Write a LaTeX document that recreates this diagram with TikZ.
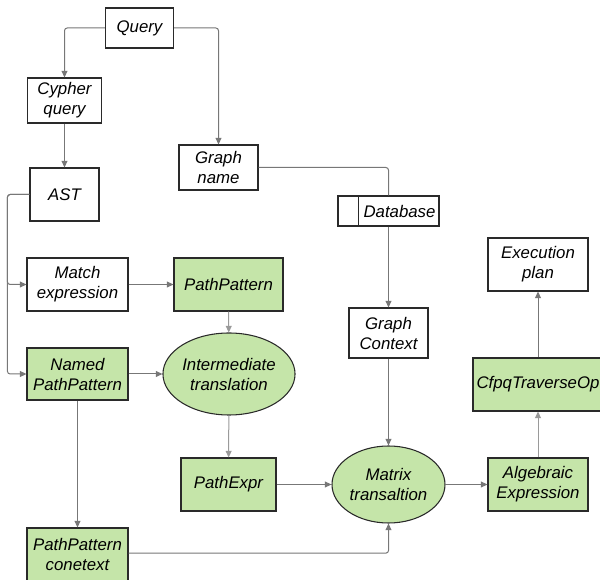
\documentclass[tikz,border=0pt]{standalone}
\usepackage{fontspec}
\setmainfont{Liberation Sans}
\usetikzlibrary{arrows.meta,shapes.geometric}
\definecolor{gfill}{HTML}{C5E5A9}
\definecolor{lcol}{HTML}{777777}
\definecolor{lcol2}{HTML}{9A9A9A}
\definecolor{bcol}{HTML}{2A2A2A}
\tikzset{
 base/.style={draw=bcol, line width=0.8pt, font=\fontsize{12.6}{15}\selectfont\itshape, align=center, inner sep=0pt},
 sz/.style 2 args={minimum width=#1*0.75pt, minimum height=#2*0.75pt},
 wbox/.style={base, fill=white, rectangle},
 gbox/.style={base, fill=gfill, rectangle},
 gell/.style={base, fill=gfill, ellipse},
 conn/.style={draw=lcol, line width=0.75pt, rounded corners=2pt},
 arr/.style={conn, -{Triangle[length=5pt,width=4.5pt]}},
 larr/.style={arr, draw=lcol2}
}
\begin{document}
\begin{tikzpicture}[x=0.75pt,y=-0.75pt]
\useasboundingbox (0,0) rectangle (600,580);
\clip (0,0) rectangle (600,580);
% nodes
\node[wbox, sz={68}{40}] (q) at (139.5,28) {Query};
\node[wbox, sz={74}{45}] (cy) at (64.5,100.5) {Cypher\\query};
\node[wbox, sz={69}{53}] (ast) at (64.5,194.5) {AST};
\node[wbox, sz={79}{45}] (gn) at (218.5,167.5) {Graph\\name};
\node[wbox, sz={101}{30}, label={[font=\fontsize{12.6}{15}\selectfont\itshape, xshift=8.25pt]center:Database}] (db) at (388.5,211) {};
\node[wbox, sz={79}{50}] (gc) at (388.5,333) {Graph\\Context};
\node[wbox, sz={100}{53}] (ep) at (538,264.5) {Execution\\plan};
\node[gbox, sz={130}{53}] (cf) at (538,384.5) {CfpqTraverseOp};
\node[wbox, sz={101}{53}] (me) at (77.5,284.5) {Match\\expression};
\node[gbox, sz={109}{53}] (pp) at (228.5,284.5) {PathPattern};
\node[gbox, sz={101}{52}] (np) at (77.5,374) {Named\\PathPattern};
\node[gell, sz={132}{82}] (it) at (229,374) {Intermediate\\translation};
\node[gbox, sz={95}{53}] (pe) at (228.5,484.5) {PathExpr};
\node[gell, sz={113}{77}] (mt) at (388.5,484.5) {Matrix\\transaltion};
\node[gbox, sz={100}{53}] (ae) at (538,484.5) {Algebraic\\Expression};
\node[gbox, sz={101}{53}] (pc) at (77.5,554.5) {PathPattern\\conetext};
% database divider
\draw[draw=bcol, line width=0.8pt] (db.north west) ++(15.75pt,0) -- ++(0,-22.5pt);
% connectors
\draw[arr] (q.west) -| (cy.north);
\draw[arr] (q.east) -| (gn.north);
\draw[arr] (cy) -- (ast);
\draw[arr] (ast.west) -- ++(-16.5pt,0) |- (me.west);
\draw[arr] (ast.west) -- ++(-16.5pt,0) |- (np.west);
\draw[conn] (gn.east) -| (db.north);
\draw[arr] (db) -- (gc);
\draw[arr] (gc) -- (mt);
\draw[arr] (me) -- (pp);
\draw[larr] (pp) -- (it);
\draw[arr] (np) -- (it);
\draw[arr] (np) -- (pc);
\draw[larr] (it) -- (pe);
\draw[arr] (pe) -- (mt);
\draw[arr] ([yshift=1pt]pc.east) -| (mt.south);
\draw[arr] (mt) -- (ae);
\draw[larr] (ae) -- (cf);
\draw[arr] (cf) -- (ep);
\end{tikzpicture}
\end{document}
